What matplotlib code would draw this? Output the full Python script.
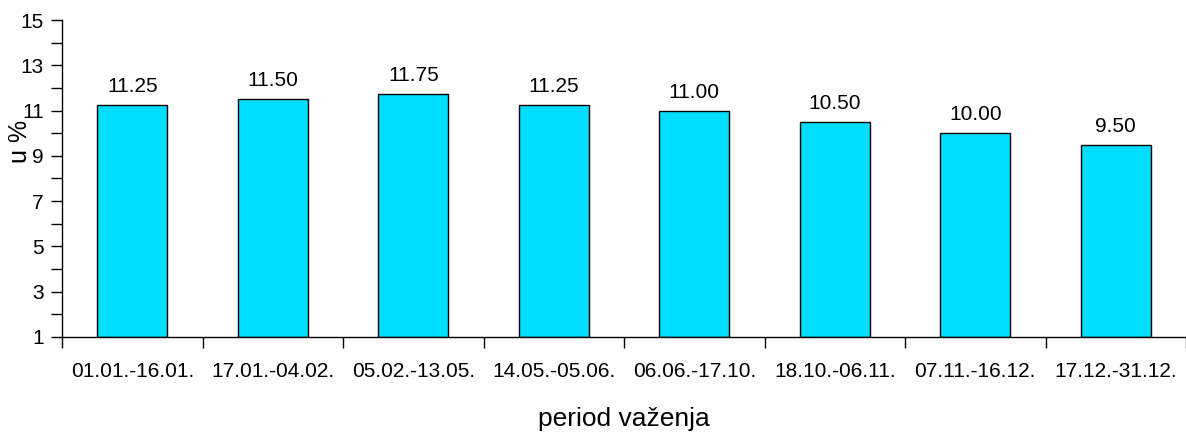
import matplotlib
matplotlib.use("Agg")
import matplotlib.pyplot as plt
from matplotlib.ticker import FixedLocator, NullFormatter

plt.rcParams['font.family'] = ['Liberation Sans', 'DejaVu Sans']

periods = ["01.01.-16.01.", "17.01.-04.02.", "05.02.-13.05.", "14.05.-05.06.",
           "06.06.-17.10.", "18.10.-06.11.", "07.11.-16.12.", "17.12.-31.12."]
rates = [11.25, 11.50, 11.75, 11.25, 11.00, 10.50, 10.00, 9.50]
y_ticks = [1, 3, 5, 7, 9, 11, 13, 15]

W, H = 1186, 437
fig = plt.figure(figsize=(W / 100, H / 100), dpi=100)
ax = fig.add_axes([62 / W, 100 / H, 1124 / W, 317 / H])

x = list(range(len(periods)))
base = 1
ax.bar(x, [r - base for r in rates], bottom=base, width=0.5,
       color="#00DDFF", edgecolor="black", linewidth=1.0)

for xi, r in zip(x, rates):
    ax.annotate(f"{r:.2f}", (xi, r), xytext=(0, 6.5), textcoords="offset points",
                ha="center", va="bottom", fontsize=15)

ax.set_xlim(-0.5, len(periods) - 0.5)
ax.set_ylim(1, 15)
ax.set_yticks(y_ticks)
ax.yaxis.set_minor_locator(FixedLocator([2, 4, 6, 8, 10, 12, 14]))
ax.tick_params(axis="y", which="both", length=8, width=1, direction="out",
               labelsize=15, pad=5)

ax.set_xticks(x)
ax.set_xticklabels(periods)
ax.xaxis.set_minor_locator(FixedLocator([i + 0.5 for i in range(-1, len(periods))]))
ax.xaxis.set_minor_formatter(NullFormatter())
ax.tick_params(axis="x", which="major", length=0, labelsize=15, pad=18)
ax.tick_params(axis="x", which="minor", length=8, width=1, direction="out")

for side in ("top", "right"):
    ax.spines[side].set_visible(False)
for side in ("left", "bottom"):
    ax.spines[side].set_linewidth(1)

fig.text(20 / W, 1 - 141 / H, "u %", rotation=90, ha="center", va="center", fontsize=18)
fig.text(624 / W, 1 - 419 / H, "period važenja", ha="center", va="center", fontsize=19)

fig.savefig("out.png", dpi=100)
